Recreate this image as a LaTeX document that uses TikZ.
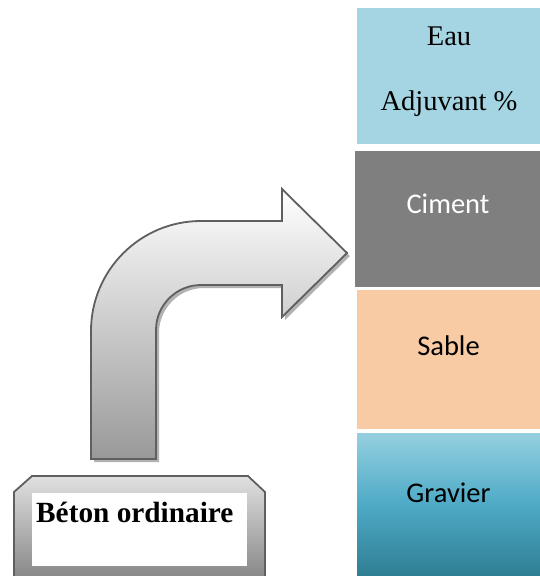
\documentclass[tikz,border=0pt]{standalone}
\usepackage{fontspec}
\setmainfont{Liberation Serif}
\newfontfamily\calib{Carlito}
\definecolor{eaucol}{HTML}{A5D5E2}
\definecolor{cimcol}{HTML}{7F7F7F}
\definecolor{sabcol}{HTML}{F8CBA5}
\definecolor{gravtop}{HTML}{95D0E0}
\definecolor{gravmid}{HTML}{4EAAC6}
\definecolor{gravbot}{HTML}{2F7E93}
\definecolor{edgecol}{HTML}{5F5F5F}
\begin{document}
\begin{tikzpicture}[x=1pt,y=-1pt,
  serifl/.style={font=\fontsize{28.5}{32}\selectfont, anchor=base},
  sansl/.style={font=\calib\fontsize{28.5}{32}\selectfont, anchor=base}]
\useasboundingbox (0,0) rectangle (540,576);
% right column boxes
\fill[eaucol] (357,8) rectangle (540,144);
\node[serifl] (eau) at (449,45) {Eau};
\node[serifl] (adj) at (449,110) {Adjuvant \%};
\fill[cimcol] (355,151) rectangle (540,287);
\node[sansl, text=white] (ciment) at (448,213) {Ciment};
\fill[sabcol] (357,290) rectangle (540,429);
\node[sansl] (sable) at (448.5,355) {Sable};
\shade[top color=gravtop, bottom color=gravbot, middle color=gravmid] (357,433) rectangle (540,576);
\node[sansl] (gravier) at (448.5,502) {Gravier};
% bent arrow shadow
\fill[black!30] (94,462) -- (94,334) arc[start angle=180,end angle=270,radius=110]
  -- (285,224) -- (285,192) -- (350,256) -- (285,320) -- (285,288) -- (204,288)
  arc[start angle=270,end angle=180,radius=45] -- (159,462) -- cycle;
% bent arrow
\shade[top color=white, bottom color=black!40, draw=edgecol, line width=1.8pt, line join=miter]
  (91,459) -- (91,331) arc[start angle=180,end angle=270,radius=110]
  -- (282,221) -- (282,189) -- (347,253) -- (282,317) -- (282,285) -- (201,285)
  arc[start angle=270,end angle=180,radius=45] -- (156,459) -- cycle;
% bevel box
\shade[top color=black!12, bottom color=black!47, draw=edgecol, line width=1.8pt]
  (14,578) -- (14,492) -- (32,476) -- (248,476) -- (265,492) -- (265,578) -- cycle;
\fill[white] (32,493) rectangle (247,566);
\node[font=\bfseries\fontsize{29.3}{33}\selectfont, anchor=base west, inner sep=0pt] (beton) at (36,522) {Béton ordinaire};
\end{tikzpicture}
\end{document}
